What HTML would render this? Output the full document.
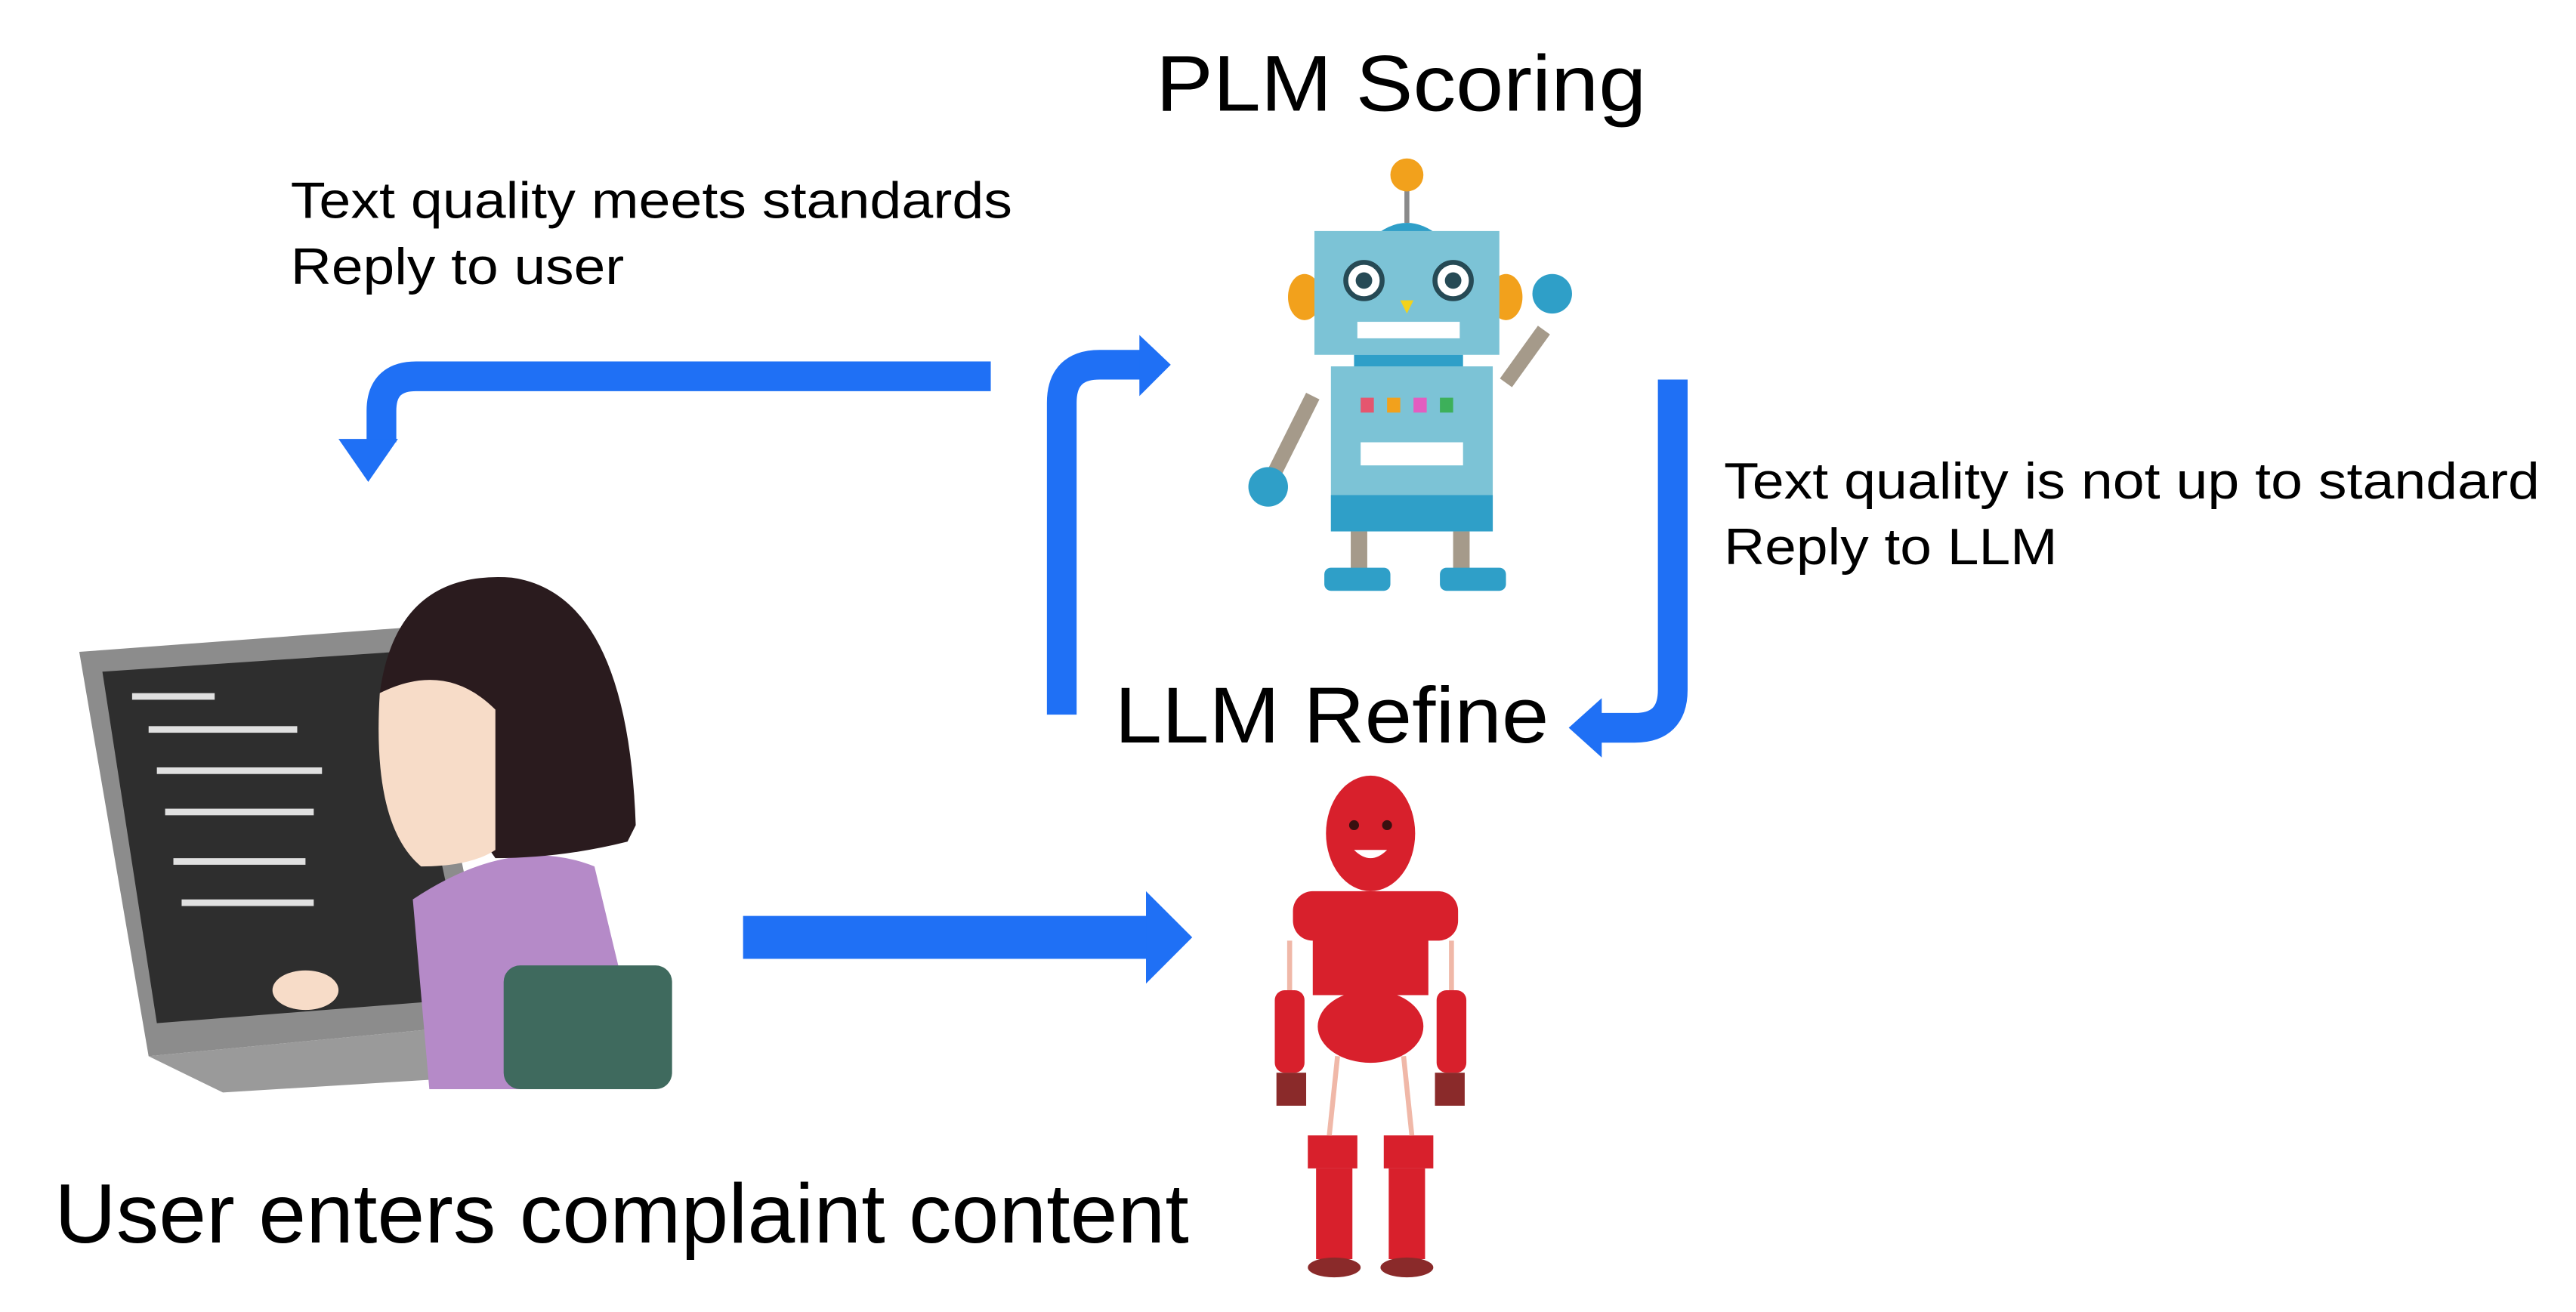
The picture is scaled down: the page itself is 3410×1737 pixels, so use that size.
<!DOCTYPE html>
<html><head><style>html,body{margin:0;padding:0;background:#fff}svg{display:block}</style></head>
<body>
<svg width="3410" height="1737" viewBox="0 0 1560 795" preserveAspectRatio="none" xmlns="http://www.w3.org/2000/svg" font-family="Liberation Sans, Arial, sans-serif">
<rect width="1560" height="795" fill="#fff"/>
<g lengthAdjust="spacingAndGlyphs">
<text x="700" y="67" font-size="48" textLength="297" lengthAdjust="spacingAndGlyphs">PLM Scoring</text>
<text x="176" y="132" font-size="31" textLength="437" lengthAdjust="spacingAndGlyphs">Text quality meets standards</text>
<text x="176" y="172" font-size="31" textLength="202" lengthAdjust="spacingAndGlyphs">Reply to user</text>
<text x="1044" y="302" font-size="31" textLength="494" lengthAdjust="spacingAndGlyphs">Text quality is not up to standard</text>
<text x="1044" y="342" font-size="31" textLength="202" lengthAdjust="spacingAndGlyphs">Reply to LLM</text>
<text x="675" y="450" font-size="48" textLength="263" lengthAdjust="spacingAndGlyphs">LLM Refine</text>
<text x="33" y="753" font-size="51" textLength="687" lengthAdjust="spacingAndGlyphs">User enters complaint content</text>
</g>
<g fill="none" stroke="#1f70f5" stroke-width="18">
<path d="M600 228 H252 Q231 228 231 249 V268"/>
<path d="M643 433 V244 Q643 221 666 221 H692"/>
<path d="M1013 230 V418 Q1013 441 990 441 H968"/>
</g>
<g fill="#1f70f5">
<polygon points="205,266 241,266 223,292"/>
<polygon points="690,203 690,240 709,221"/>
<polygon points="970,423 970,459 950,441"/>
<rect x="450" y="555" width="246" height="26"/>
<polygon points="694,540 694,596 722,568"/>
</g>
<g>
<line x1="852" y1="110" x2="852" y2="135" stroke="#8a8a8a" stroke-width="3"/>
<circle cx="852" cy="106" r="10" fill="#f2a11c"/>
<path d="M830 145 Q852 125 874 145Z" fill="#2f9fc8"/>
<ellipse cx="790" cy="180" rx="10" ry="14" fill="#f2a11c"/>
<ellipse cx="912" cy="180" rx="10" ry="14" fill="#f2a11c"/>
<rect x="796" y="140" width="112" height="75" fill="#7cc3d6"/>
<circle cx="826" cy="170" r="11" fill="#fff" stroke="#264a55" stroke-width="3"/>
<circle cx="880" cy="170" r="11" fill="#fff" stroke="#264a55" stroke-width="3"/>
<circle cx="826" cy="170" r="5" fill="#264a55"/><circle cx="880" cy="170" r="5" fill="#264a55"/>
<polygon points="848,182 856,182 852,190" fill="#f2d21c"/>
<rect x="822" y="195" width="62" height="10" fill="#fff"/>
<rect x="820" y="215" width="66" height="10" fill="#2f9fc8"/>
<path d="M912 232 L935 200" stroke="#a59a8a" stroke-width="9"/>
<circle cx="940" cy="178" r="12" fill="#2f9fc8"/>
<path d="M795 240 L770 290" stroke="#a59a8a" stroke-width="9"/>
<circle cx="768" cy="295" r="12" fill="#2f9fc8"/>
<rect x="806" y="222" width="98" height="100" fill="#7cc3d6"/>
<rect x="806" y="300" width="98" height="22" fill="#2f9fc8"/>
<rect x="824" y="241" width="8" height="9" fill="#e5566f"/><rect x="840" y="241" width="8" height="9" fill="#f2a11c"/>
<rect x="856" y="241" width="8" height="9" fill="#e35dc0"/><rect x="872" y="241" width="8" height="9" fill="#3db05a"/>
<rect x="824" y="268" width="62" height="14" fill="#fff"/>
<rect x="818" y="322" width="10" height="24" fill="#a59a8a"/><rect x="880" y="322" width="10" height="24" fill="#a59a8a"/>
<rect x="802" y="344" width="40" height="14" rx="4" fill="#2f9fc8"/><rect x="872" y="344" width="40" height="14" rx="4" fill="#2f9fc8"/>
</g>
<g fill="#d8202c">
<ellipse cx="830" cy="505" rx="27" ry="35"/>
<rect x="783" y="540" width="100" height="30" rx="12"/>
<rect x="795" y="565" width="70" height="38"/>
<ellipse cx="830" cy="622" rx="32" ry="22"/>
<rect x="772" y="600" width="18" height="50" rx="6"/><rect x="870" y="600" width="18" height="50" rx="6"/>
<rect x="773" y="650" width="18" height="20" fill="#8a2a2a"/><rect x="869" y="650" width="18" height="20" fill="#8a2a2a"/>
<rect x="792" y="688" width="30" height="20"/><rect x="838" y="688" width="30" height="20"/>
<rect x="797" y="708" width="22" height="55"/><rect x="841" y="708" width="22" height="55"/>
<ellipse cx="808" cy="768" rx="16" ry="6" fill="#8a2a2a"/><ellipse cx="852" cy="768" rx="16" ry="6" fill="#8a2a2a"/>
</g>
<g stroke="#f0b8a8" stroke-width="3">
<line x1="781" y1="570" x2="781" y2="600"/><line x1="879" y1="570" x2="879" y2="600"/>
<line x1="810" y1="640" x2="805" y2="688"/><line x1="850" y1="640" x2="855" y2="688"/>
</g>
<circle cx="820" cy="500" r="3" fill="#3a1010"/><circle cx="840" cy="500" r="3" fill="#3a1010"/>
<path d="M820 515 Q830 525 840 515" fill="#fff"/>
<polygon points="48,395 250,380 300,620 90,640" fill="#8c8c8c"/>
<polygon points="62,407 240,395 285,605 95,620" fill="#2e2e2e"/>
<polygon points="90,640 300,620 330,650 135,662" fill="#9a9a9a"/>
<g fill="#e0e0e0"><rect x="80" y="420" width="50" height="4"/><rect x="90" y="440" width="90" height="4"/><rect x="95" y="465" width="100" height="4"/><rect x="100" y="490" width="90" height="4"/><rect x="105" y="520" width="80" height="4"/><rect x="110" y="545" width="80" height="4"/></g>
<path d="M250 545 Q310 505 360 525 L378 600 L380 660 L260 660 Z" fill="#b58ac8"/>
<path d="M230 420 Q240 345 310 350 Q380 360 385 500 L380 510 Q340 520 300 520 Z" fill="#2a1b1e"/>
<path d="M230 420 Q225 500 255 525 Q285 525 300 515 L300 430 Q270 400 230 420Z" fill="#f7dcc8"/>
<rect x="305" y="585" width="102" height="75" rx="10" fill="#3f6a5e"/>
<ellipse cx="185" cy="600" rx="20" ry="12" fill="#f7dcc8"/>
</svg>
</body></html>
